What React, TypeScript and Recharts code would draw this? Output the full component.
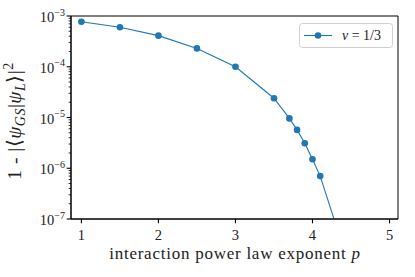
import React from "react";
import { LineChart, Line, XAxis, YAxis, ReferenceArea } from "recharts";

const exponents = [1, 1.5, 2, 2.5, 3, 3.5, 3.7, 3.8, 3.9, 4.0, 4.1, 4.3];
const infidelity = [7.7e-4, 6.0e-4, 4.1e-4, 2.3e-4, 1.0e-4, 2.4e-5, 9.6e-6, 5.7e-6, 3.1e-6, 1.5e-6, 7.0e-7, 8e-8];
const seriesName = "ν = 1/3";
const xTicks = [1, 2, 3, 4, 5];
const yMajorExp = [-7, -6, -5, -4, -3];

const data = exponents.map((p, i) => ({ p, v: infidelity[i] }));

const yTicks: number[] = [];
yMajorExp.forEach((e) => {
  yTicks.push(Math.pow(10, e));
  if (e < -3) for (let m = 2; m <= 9; m++) yTicks.push(m * Math.pow(10, e));
});

const FONT = "'Liberation Serif', 'Times New Roman', serif";
const COLOR = "#1f77b4";

const isMajor = (v: number) => {
  const l = Math.log10(v);
  return Math.abs(l - Math.round(l)) < 1e-6;
};

const YTick = (props: any) => {
  const { x, y, payload } = props;
  const v = payload.value;
  const major = isMajor(v);
  const len = major ? 4.3 : 2.4;
  return (
    <g>
      <line x1={x - len} x2={x} y1={y} y2={y} stroke="#000" strokeWidth={major ? 1.1 : 0.8} />
      {major && (
        <text x={x - 6} y={y + 6} textAnchor="end" fontFamily={FONT} fontSize={14.5} fill="#222">
          10
          <tspan dy={-6.5} fontSize={10}>{"−" + Math.abs(Math.round(Math.log10(v)))}</tspan>
        </text>
      )}
    </g>
  );
};

const XTick = (props: any) => {
  const { x, y, payload } = props;
  return (
    <g>
      <line x1={x} x2={x} y1={y} y2={y + 4.3} stroke="#000" strokeWidth={1.1} />
      <text x={x} y={y + 21} textAnchor="middle" fontFamily={FONT} fontSize={14.5} fill="#222">
        {payload.value}
      </text>
    </g>
  );
};

export default function App() {
  return (
    <div style={{ position: "absolute", left: 0, top: 0, width: 415, height: 277, background: "#fff" }}>
      <LineChart
        width={415}
        height={277}
        data={data}
        margin={{ top: 16, right: 17, left: 0, bottom: 0 }}
      >
        <XAxis
          dataKey="p"
          type="number"
          domain={[0.865, 5.11]}
          ticks={xTicks}
          height={58}
          allowDataOverflow
          tickLine={false}
          tickSize={0}
          tickMargin={0}
          axisLine={{ stroke: "#000", strokeWidth: 1 }}
          tick={(p: any) => <XTick {...p} />}
          interval={0}
        />
        <YAxis
          dataKey="v"
          type="number"
          scale="log"
          domain={[1e-7, 1e-3]}
          ticks={yTicks}
          width={71}
          allowDataOverflow
          tickLine={false}
          tickSize={0}
          tickMargin={0}
          axisLine={{ stroke: "#000", strokeWidth: 1 }}
          tick={(p: any) => <YTick {...p} />}
          interval={0}
        />
        <ReferenceArea
          x1={0.865}
          x2={5.11}
          y1={1e-7}
          y2={1e-3}
          fill="none"
          stroke="#000"
          strokeWidth={1}
          ifOverflow="visible"
        />
        <Line
          dataKey="v"
          stroke={COLOR}
          strokeWidth={1.1}
          dot={{ r: 3.3, fill: COLOR, stroke: COLOR, strokeWidth: 0 }}
          activeDot={false}
          isAnimationActive={false}
        />
      </LineChart>
      <svg width={415} height={277} style={{ position: "absolute", left: 0, top: 0, pointerEvents: "none" }}>
        <text
          x={235}
          y={259}
          textAnchor="middle"
          fontFamily={FONT}
          fontSize={17}
          letterSpacing={0.75}
          fill="#222"
        >
          interaction power law exponent <tspan fontStyle="italic">p</tspan>
        </text>
        <text
          transform="translate(21,121) rotate(-90)"
          textAnchor="middle"
          fontFamily={FONT}
          fontSize={19.5}
          letterSpacing={0.5}
          fill="#222"
        >
          1 - |⟨<tspan fontStyle="italic">ψ</tspan>
          <tspan fontStyle="italic" fontSize={14} dy={3.5}>GS</tspan>
          <tspan dy={-3.5}>|</tspan>
          <tspan fontStyle="italic">ψ</tspan>
          <tspan fontStyle="italic" fontSize={14} dy={3.5}>L</tspan>
          <tspan dy={-3.5}>⟩|</tspan>
          <tspan fontSize={14} dy={-8}>2</tspan>
        </text>
        <rect x={299.5} y={23.5} width={93} height={24} rx={3} fill="#fff" fillOpacity={0.8} stroke="#d0d0d0" strokeWidth={1} />
        <line x1={304} x2={332} y1={35.5} y2={35.5} stroke={COLOR} strokeWidth={1.1} />
        <circle cx={318} cy={35.5} r={3.3} fill={COLOR} />
        <text x={342} y={40} fontFamily={FONT} fontSize={14} fill="#222">
          <tspan fontStyle="italic">ν</tspan>
          {seriesName.slice(1)}
        </text>
      </svg>
    </div>
  );
}
